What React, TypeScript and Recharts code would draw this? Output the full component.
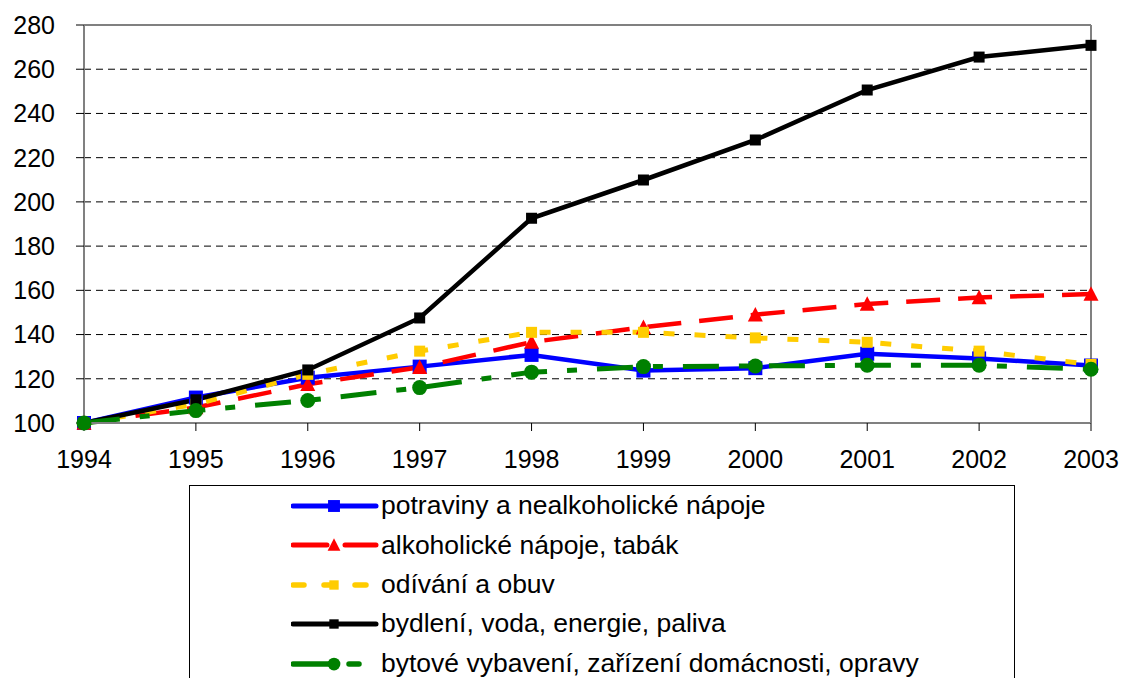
import React from "react";
import { LineChart, Line, XAxis, YAxis, CartesianGrid, ReferenceLine } from "recharts";

const years = [1994, 1995, 1996, 1997, 1998, 1999, 2000, 2001, 2002, 2003];
const potraviny = [100, 111.5, 120.5, 125.5, 130.8, 123.7, 124.8, 131.3, 129.2, 126];
const alkohol = [100, 107, 117.5, 125.2, 136.6, 143.3, 149, 153.8, 156.8, 158.3];
const odivani = [100, 108.5, 122, 132.5, 141, 141, 138.5, 136.5, 132.5, 126.5];
const bydleni = [100, 110.5, 124, 147.5, 192.6, 209.9, 228, 250.6, 265.5, 270.8];
const bytove = [100, 105.6, 110.2, 116, 123, 125.5, 125.8, 126.1, 126.1, 124.3];
const yTicks = [100, 120, 140, 160, 180, 200, 220, 240, 260, 280];

const seriesNames = [
  "potraviny a nealkoholické nápoje",
  "alkoholické nápoje, tabák",
  "odívání a obuv",
  "bydlení, voda, energie, paliva",
  "bytové vybavení, zařízení domácnosti, opravy",
];

const data = years.map((y, i) => ({
  year: y,
  potraviny: potraviny[i],
  alkohol: alkohol[i],
  odivani: odivani[i],
  bydleni: bydleni[i],
  bytove: bytove[i],
}));

const FONT = '"Liberation Sans", Arial, sans-serif';

type MarkerKind = "square" | "triangle" | "circle";

const drawMarker = (kind: MarkerKind, cx: number, cy: number, size: number, color: string, key?: any) => {
  if (kind === "square") {
    return <rect key={key} x={cx - size / 2} y={cy - size / 2} width={size} height={size} fill={color} stroke="none" />;
  }
  if (kind === "triangle") {
    const h = size * 0.9;
    return (
      <polygon
        key={key}
        points={`${cx},${cy - h / 2 - 1} ${cx - size / 2},${cy + h / 2} ${cx + size / 2},${cy + h / 2}`}
        fill={color}
        stroke="none"
      />
    );
  }
  return <circle key={key} cx={cx} cy={cy} r={size / 2} fill={color} stroke="none" />;
};

const makeDot = (kind: MarkerKind, size: number, color: string) => (props: any) => {
  const { cx, cy, index } = props;
  if (cx == null || cy == null) return <g key={index} />;
  return drawMarker(kind, cx, cy, size, color, index);
};

const series = [
  { key: "potraviny", color: "#0000FF", dash: undefined as string | undefined, kind: "square" as MarkerKind, size: 14, width: 4.5 },
  { key: "alkohol", color: "#FF0000", dash: "34 18", kind: "triangle" as MarkerKind, size: 15, width: 4.5 },
  { key: "odivani", color: "#FFCC00", dash: "11 20", kind: "square" as MarkerKind, size: 11, width: 5 },
  { key: "bydleni", color: "#000000", dash: undefined as string | undefined, kind: "square" as MarkerKind, size: 11, width: 4.5 },
  { key: "bytove", color: "#008000", dash: "36 20 10 20", kind: "circle" as MarkerKind, size: 15, width: 5 },
];

const LegendBox = () => (
  <div
    style={{
      position: "absolute",
      left: 189,
      top: 485,
      width: 826,
      height: 220,
      border: "1px solid #000",
      boxSizing: "border-box",
      background: "#fff",
    }}
  >
    {series.map((s, i) => (
      <div key={s.key} style={{ display: "flex", alignItems: "center", height: 39.4, position: "relative" }}>
        <svg width={90} height={30} style={{ position: "absolute", left: 101, top: 5 }}>
          <line x1={2} y1={15} x2={85} y2={15} stroke={s.color} strokeWidth={s.width + 0.5} strokeDasharray={s.dash} strokeLinecap="round" />
          {drawMarker(s.kind, 43, 15, s.size * 0.85, s.color)}
        </svg>
        <span style={{ position: "absolute", left: 191, fontFamily: FONT, fontSize: 26.5, color: "#000", whiteSpace: "nowrap", lineHeight: "39px" }}>
          {seriesNames[i]}
        </span>
      </div>
    ))}
  </div>
);

export default function App() {
  return (
    <div style={{ position: "absolute", left: 0, top: 0, width: 1123, height: 678, background: "#fff", overflow: "hidden" }}>
      <LineChart width={1123} height={678} data={data} margin={{ top: 25, right: 32, bottom: 205, left: 0 }}>
        <CartesianGrid vertical={false} horizontal stroke="#000" strokeDasharray="7 5" strokeWidth={1} />
        <XAxis
          dataKey="year"
          type="number"
          domain={[1994, 2003]}
          ticks={years}
          height={50}
          axisLine={{ stroke: "#808080", strokeWidth: 2 }}
          tickLine={{ stroke: "#000", strokeWidth: 1 }}
          tickSize={8}
          tickMargin={19}
          tick={{ fill: "#000", fontSize: 25, fontFamily: FONT }}
          interval={0}
          allowDecimals={false}
        />
        <YAxis
          type="number"
          domain={[100, 280]}
          ticks={yTicks}
          width={84}
          axisLine={{ stroke: "#808080", strokeWidth: 2 }}
          tickLine={{ stroke: "#000", strokeWidth: 1 }}
          tickSize={8}
          tickMargin={21}
          tick={{ fill: "#000", fontSize: 25, fontFamily: FONT }}
          interval={0}
        />
        <ReferenceLine y={280} stroke="#808080" strokeWidth={2} />
        <ReferenceLine x={2003} stroke="#808080" strokeWidth={2} />
        {series.map((s) => (
          <Line
            key={s.key}
            dataKey={s.key}
            type="linear"
            stroke={s.color}
            strokeWidth={s.width}
            strokeDasharray={s.dash}
            dot={makeDot(s.kind, s.size, s.color)}
            activeDot={false}
            isAnimationActive={false}
          />
        ))}
      </LineChart>
      <LegendBox />
    </div>
  );
}
